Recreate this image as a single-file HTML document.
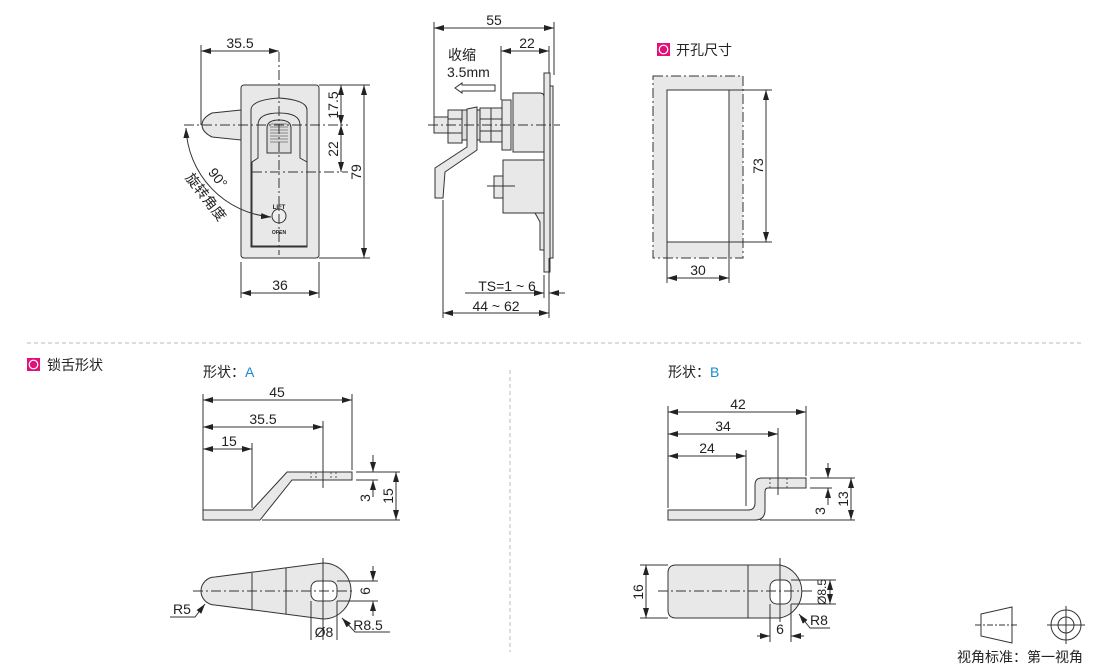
<!DOCTYPE html>
<html><head><meta charset="utf-8"><style>
html,body{margin:0;padding:0;background:#fff;}
svg{display:block;}
text{font-family:"Liberation Sans","Noto Sans CJK SC",sans-serif;fill:#222;}
</style></head><body>
<svg width="1110" height="668" viewBox="0 0 1110 668" xmlns="http://www.w3.org/2000/svg">
<defs>
<marker id="a" viewBox="0 0 10 6" refX="10" refY="3" markerWidth="10" markerHeight="6" orient="auto-start-reverse" markerUnits="userSpaceOnUse"><path d="M0,0 L10,3 L0,6 z" fill="#222"/></marker>
</defs>
<g stroke="#333" stroke-width="1" fill="none">
<!-- FRONT VIEW -->
<path d="M241,110 L212,113 Q202,118 202,125 Q202,132 212,137 L241,140 Z" fill="#e8e8e8"/>
<rect x="241" y="85" width="78" height="173" rx="3" fill="#e8e8e8"/>
<path d="M251,247 L251,110 Q251,100 279,98 Q307,100 307,110 L307,247 Z" fill="#e8e8e8"/>
<path d="M258,158 L258,125 Q258,113 279,113 Q300,113 300,125 L300,158 L307,162 L307,246 L252,246 L252,162 Z" fill="#e8e8e8"/>
<path d="M267,153 L267,128 Q267,120 279,120 Q291,120 291,128 L291,153 Z" fill="#ddd"/>
<g stroke="#888"><line x1="271" y1="124" x2="287" y2="124"/><line x1="270" y1="127" x2="288" y2="127"/><line x1="270" y1="130" x2="288" y2="130"/><line x1="270" y1="133" x2="288" y2="133"/><line x1="270" y1="136" x2="288" y2="136"/><line x1="270" y1="139" x2="288" y2="139"/><line x1="270" y1="142" x2="288" y2="142"/></g>
<circle cx="279" cy="216" r="7" fill="#eee"/>
<path d="M279,52 L279,255" stroke-dasharray="10,3,2,3"/>
<path d="M184,125 L348,125" stroke-dasharray="10,3,2,3"/>
<path d="M252,172 L348,172" stroke-dasharray="10,3,2,3"/>
<line x1="201" y1="45" x2="201" y2="125"/>
<line x1="201" y1="51" x2="279" y2="51" marker-start="url(#a)" marker-end="url(#a)"/>
<line x1="241" y1="262" x2="241" y2="298"/><line x1="319" y1="262" x2="319" y2="298"/>
<line x1="241" y1="293" x2="319" y2="293" marker-start="url(#a)" marker-end="url(#a)"/>
<line x1="319" y1="85" x2="370" y2="85"/><line x1="319" y1="258" x2="370" y2="258"/>
<line x1="364" y1="85" x2="364" y2="258" marker-start="url(#a)" marker-end="url(#a)"/>
<line x1="341" y1="85" x2="341" y2="125" marker-start="url(#a)" marker-end="url(#a)"/>
<line x1="341" y1="125" x2="341" y2="172" marker-start="url(#a)" marker-end="url(#a)"/>
<path d="M186,128 A93,93 0 0 0 271,217" marker-start="url(#a)" marker-end="url(#a)"/>
<!-- SIDE VIEW -->
<rect x="544" y="73" width="6" height="199" fill="#e8e8e8"/>
<rect x="550" y="86" width="3" height="172" fill="#e8e8e8"/>
<path d="M513,93 L540,93 Q544,93 544,97 L544,152 L513,152 Z" fill="#e8e8e8"/>
<path d="M503,160 L544,160 L544,213 L503,213 Z" fill="#e8e8e8"/>
<path d="M535,213 L540,222 L540,250 L544,250 L544,213 Z" fill="#e8e8e8"/>
<rect x="502" y="100" width="9" height="50" fill="#e8e8e8"/>
<rect x="480" y="108" width="22" height="34" fill="#e8e8e8"/>
<line x1="480" y1="119" x2="502" y2="119"/><line x1="480" y1="131" x2="502" y2="131"/><line x1="491" y1="108" x2="491" y2="142"/>
<rect x="476" y="110" width="4" height="30" fill="#ddd"/>
<rect x="462" y="110" width="5" height="30" fill="#ddd"/>
<rect x="448" y="110" width="14" height="33" fill="#e8e8e8"/>
<line x1="448" y1="119" x2="462" y2="119"/><line x1="448" y1="133" x2="462" y2="133"/>
<rect x="434" y="117" width="14" height="16" fill="#e8e8e8"/>
<path d="M467,109 L477,107 L477,150 L445,172 L443,198 L435,198 L435,168 L467,147 Z" fill="#e8e8e8"/>
<rect x="494" y="176" width="9" height="22" fill="#e8e8e8"/>
<line x1="487" y1="186" x2="515" y2="186"/>
<path d="M428,125 L560,125" stroke-dasharray="10,3,2,3"/>
<line x1="434" y1="22" x2="434" y2="117"/><line x1="554" y1="22" x2="554" y2="75"/>
<line x1="434" y1="28" x2="554" y2="28" marker-start="url(#a)" marker-end="url(#a)"/>
<line x1="501" y1="46" x2="501" y2="100"/><line x1="549" y1="46" x2="549" y2="73"/>
<line x1="501" y1="51" x2="549" y2="51" marker-start="url(#a)" marker-end="url(#a)"/>
<path d="M495,85 L462,85 L462,83 L455,88 L462,93 L462,91 L495,91 Z"/>
<line x1="443" y1="200" x2="443" y2="318"/><line x1="549" y1="258" x2="549" y2="318"/><line x1="544" y1="275" x2="544" y2="298"/>
<line x1="465" y1="293" x2="544" y2="293" marker-end="url(#a)"/>
<line x1="565" y1="293" x2="549" y2="293" marker-end="url(#a)"/>
<line x1="443" y1="313" x2="549" y2="313" marker-start="url(#a)" marker-end="url(#a)"/>
<!-- CUTOUT -->
<path d="M653,76 H743 V258 H653 Z M667,90 V242 H729 V90 Z" fill="#e8e8e8" fill-rule="evenodd" stroke="none"/>
<rect x="653" y="76" width="90" height="182" stroke-dasharray="10,3,2,3"/>
<rect x="667" y="90" width="62" height="152"/>
<line x1="729" y1="90" x2="772" y2="90"/><line x1="729" y1="242" x2="772" y2="242"/>
<line x1="766" y1="90" x2="766" y2="242" marker-start="url(#a)" marker-end="url(#a)"/>
<line x1="667" y1="242" x2="667" y2="283"/><line x1="729" y1="242" x2="729" y2="283"/>
<line x1="667" y1="278" x2="729" y2="278" marker-start="url(#a)" marker-end="url(#a)"/>
</g>
<!-- separators -->
<line x1="27" y1="343" x2="1083" y2="343" stroke="#bbb" stroke-dasharray="4,3"/>
<line x1="510" y1="370" x2="510" y2="652" stroke="#bbb" stroke-dasharray="4,3"/>
<g stroke="#333" stroke-width="1" fill="none">
<!-- SHAPE A side -->
<path d="M203,510 L252,510 L287,472 L352,472 L352,480 L292,480 L260,520 L203,520 Z" fill="#e8e8e8"/>
<g stroke="#555"><line x1="311" y1="472" x2="311" y2="480" stroke-dasharray="2,2"/><line x1="316" y1="472" x2="316" y2="480" stroke-dasharray="2,2"/><line x1="331" y1="472" x2="331" y2="480" stroke-dasharray="2,2"/><line x1="336" y1="472" x2="336" y2="480" stroke-dasharray="2,2"/></g>
<line x1="203" y1="394" x2="203" y2="510"/><line x1="352" y1="394" x2="352" y2="470"/>
<line x1="323" y1="421" x2="323" y2="488"/><line x1="252" y1="443" x2="252" y2="508"/>
<line x1="203" y1="400" x2="352" y2="400" marker-start="url(#a)" marker-end="url(#a)"/>
<line x1="203" y1="427" x2="323" y2="427" marker-start="url(#a)" marker-end="url(#a)"/>
<line x1="203" y1="449" x2="252" y2="449" marker-start="url(#a)" marker-end="url(#a)"/>
<line x1="356" y1="472" x2="400" y2="472"/><line x1="356" y1="480" x2="378" y2="480"/><line x1="262" y1="520" x2="400" y2="520"/>
<line x1="373" y1="455" x2="373" y2="472" marker-end="url(#a)"/>
<line x1="373" y1="497" x2="373" y2="480" marker-end="url(#a)"/>
<line x1="396" y1="472" x2="396" y2="520" marker-start="url(#a)" marker-end="url(#a)"/>
<!-- SHAPE A top -->
<path d="M215,577 L323,563 A28,28 0 0 1 323,619 L215,605 A14,14 0 0 1 215,577 Z" fill="#e8e8e8"/>
<line x1="252" y1="573" x2="252" y2="610"/><line x1="286" y1="568" x2="286" y2="614"/>
<rect x="311" y="581" width="26" height="20" rx="7" fill="#fff"/>
<path d="M193,591 L355,591" stroke-dasharray="10,3,2,3"/>
<line x1="323" y1="558" x2="323" y2="640"/>
<line x1="311" y1="601" x2="311" y2="640"/><line x1="337" y1="601" x2="337" y2="640"/>
<line x1="337" y1="581" x2="378" y2="581"/><line x1="337" y1="601" x2="378" y2="601"/>
<line x1="373" y1="566" x2="373" y2="581" marker-end="url(#a)"/>
<line x1="373" y1="616" x2="373" y2="601" marker-end="url(#a)"/>
<polyline points="170,617 195,617 205,604" marker-end="url(#a)"/>
<polyline points="390,632 355,632 342,618" marker-end="url(#a)"/>
<!-- SHAPE B side -->
<path d="M668,510 L748,510 Q755,510 755,503 L755,485 Q755,478 762,478 L806,478 L806,488 L768,488 Q765,488 765,492 L765,510 Q765,520 755,520 L668,520 Z" fill="#e8e8e8"/>
<g stroke="#555"><line x1="770" y1="478" x2="770" y2="488" stroke-dasharray="2,2"/><line x1="787" y1="478" x2="787" y2="488" stroke-dasharray="2,2"/></g>
<line x1="668" y1="406" x2="668" y2="508"/><line x1="806" y1="406" x2="806" y2="476"/>
<line x1="778" y1="428" x2="778" y2="495"/><line x1="746" y1="450" x2="746" y2="506"/>
<line x1="668" y1="412" x2="806" y2="412" marker-start="url(#a)" marker-end="url(#a)"/>
<line x1="668" y1="434" x2="778" y2="434" marker-start="url(#a)" marker-end="url(#a)"/>
<line x1="668" y1="456" x2="746" y2="456" marker-start="url(#a)" marker-end="url(#a)"/>
<line x1="810" y1="478" x2="855" y2="478"/><line x1="810" y1="488" x2="832" y2="488"/><line x1="760" y1="520" x2="855" y2="520"/>
<line x1="828" y1="463" x2="828" y2="478" marker-end="url(#a)"/>
<line x1="828" y1="505" x2="828" y2="488" marker-end="url(#a)"/>
<line x1="851" y1="478" x2="851" y2="520" marker-start="url(#a)" marker-end="url(#a)"/>
<!-- SHAPE B top -->
<path d="M676,565 L780,565 A27,27 0 0 1 780,618 L676,618 Q668,618 668,610 L668,573 Q668,565 676,565 Z" fill="#e8e8e8"/>
<line x1="748" y1="565" x2="748" y2="618"/>
<rect x="770" y="580" width="21" height="24" rx="7" fill="#fff"/>
<path d="M658,591 L815,591" stroke-dasharray="10,3,2,3"/>
<line x1="780" y1="558" x2="780" y2="622"/>
<line x1="640" y1="565" x2="668" y2="565"/><line x1="640" y1="618" x2="668" y2="618"/>
<line x1="646" y1="565" x2="646" y2="618" marker-start="url(#a)" marker-end="url(#a)"/>
<line x1="791" y1="580" x2="836" y2="580"/><line x1="791" y1="604" x2="836" y2="604"/>
<line x1="830" y1="580" x2="830" y2="604" marker-start="url(#a)" marker-end="url(#a)"/>
<line x1="770" y1="604" x2="770" y2="642"/><line x1="791" y1="604" x2="791" y2="642"/>
<line x1="757" y1="636" x2="770" y2="636" marker-end="url(#a)"/>
<line x1="804" y1="636" x2="791" y2="636" marker-end="url(#a)"/>
<polyline points="830,628 810,628 799,614" marker-end="url(#a)"/>
<!-- legend -->
<path d="M981,614 L1012,607 L1012,643 L981,636 Z"/>
<line x1="975" y1="625" x2="1018" y2="625" stroke-dasharray="6,2,2,2"/>
<circle cx="1066" cy="625" r="15"/><circle cx="1066" cy="625" r="8"/>
<line x1="1047" y1="625" x2="1085" y2="625"/><line x1="1066" y1="606" x2="1066" y2="644"/>
</g>
<!-- TEXT -->
<g font-size="14" text-anchor="middle">
<text x="240" y="48">35.5</text>
<text x="280" y="290">36</text>
<text x="494" y="25">55</text>
<text x="527" y="48">22</text>
<text x="698" y="275">30</text>
<text x="277" y="397">45</text>
<text x="263" y="424">35.5</text>
<text x="229" y="446">15</text>
<text x="738" y="409">42</text>
<text x="723" y="431">34</text>
<text x="707" y="453">24</text>
<text x="182" y="614">R5</text>
<text x="324" y="637">Ø8</text>
<text x="368" y="630">R8.5</text>
<text x="780" y="634">6</text>
<text x="819" y="625">R8</text>
<text x="507" y="291">TS=1 ~ 6</text>
<text x="496" y="311">44 ~ 62</text>
</g>
<g font-size="14">
<text x="448" y="60">收缩</text>
<text x="447" y="77">3.5mm</text>
</g>
<g font-size="14" text-anchor="middle">
<text transform="translate(338,105) rotate(-90)">17.5</text>
<text transform="translate(338,149) rotate(-90)">22</text>
<text transform="translate(361,172) rotate(-90)">79</text>
<text transform="translate(763,166) rotate(-90)">73</text>
<text transform="translate(370,498) rotate(-90)">3</text>
<text transform="translate(393,496) rotate(-90)">15</text>
<text transform="translate(825,511) rotate(-90)">3</text>
<text transform="translate(848,499) rotate(-90)">13</text>
<text transform="translate(643,592) rotate(-90)">16</text>
<text transform="translate(370,591) rotate(-90)">6</text>
<text transform="translate(826,592) rotate(-90)" font-size="12">Ø8.5</text>
<text transform="translate(214,181) rotate(52)">90°</text>
<text transform="translate(202,200) rotate(52)">旋转角度</text>
</g>
<text x="279" y="209" font-size="6" font-weight="bold" text-anchor="middle">LIFT</text>
<text x="279" y="234" font-size="5" font-weight="bold" text-anchor="middle">OPEN</text>
<g font-size="14">
<rect x="657" y="43" width="13" height="13" fill="#e0127a"/><circle cx="663.5" cy="49.5" r="4.3" fill="none" stroke="#fff" stroke-width="1.2"/>
<text x="676" y="55">开孔尺寸</text>
<rect x="27" y="358" width="13" height="13" fill="#e0127a"/><circle cx="33.5" cy="364.5" r="4.3" fill="none" stroke="#fff" stroke-width="1.2"/>
<text x="47" y="370">锁舌形状</text>
<text x="203" y="377">形状：<tspan fill="#1a8ad0">A</tspan></text>
<text x="668" y="377">形状：<tspan fill="#1a8ad0">B</tspan></text>
<text x="957" y="662">视角标准：第一视角</text>
</g>
</svg>
</body></html>
